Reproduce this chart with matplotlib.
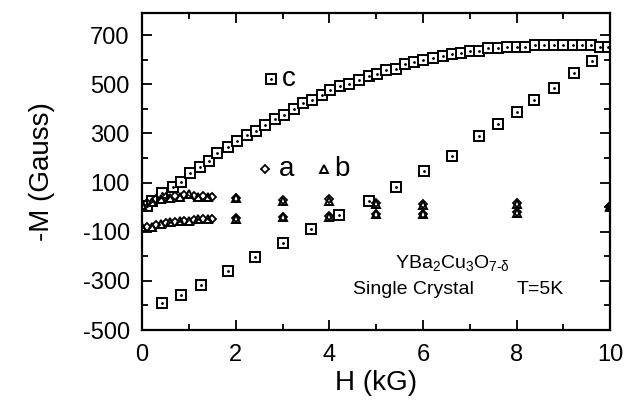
import matplotlib
matplotlib.use("Agg")
import matplotlib.pyplot as plt
from matplotlib.ticker import MultipleLocator

plt.rcParams['font.family'] = ['Liberation Sans', 'DejaVu Sans']
plt.rcParams['axes.unicode_minus'] = False
plt.rcParams['mathtext.fontset'] = 'custom'
plt.rcParams['mathtext.rm'] = 'Liberation Sans'
plt.rcParams['mathtext.it'] = 'Liberation Sans'

# curve c, upper branch (squares)
c_up_H = [0.1, 0.21, 0.42, 0.65, 0.83, 1.03, 1.24, 1.43, 1.61, 1.83, 2.02, 2.24, 2.43,
          2.63, 2.84, 3.03, 3.25, 3.43, 3.63, 3.85, 4.02, 4.22, 4.43, 4.63, 4.84, 5.01,
          5.21, 5.43, 5.62, 5.81, 6.01, 6.21, 6.43, 6.62, 6.81, 7.01, 7.2, 7.4, 7.61,
          7.79, 8.0, 8.18, 8.4, 8.59, 8.79, 9.0, 9.2, 9.39, 9.59, 9.79, 9.96]
c_up_M = [6, 27, 56, 81, 104, 137, 162, 187, 220, 244, 269, 292, 309,
          333, 360, 376, 401, 424, 435, 458, 476, 492, 499, 516, 533, 541,
          557, 564, 584, 591, 598, 607, 614, 622, 629, 636, 636, 646, 646,
          652, 652, 652, 659, 659, 659, 659, 659, 659, 659, 652, 652]
# curve c, return branch
c_dn_H = [0.42, 0.83, 1.25, 1.83, 2.41, 3.02, 3.61, 4.21, 4.84, 5.43, 6.03, 6.62,
          7.19, 7.61, 8.02, 8.38, 8.79, 9.22, 9.61]
c_dn_M = [-391, -357, -316, -259, -202, -144, -89, -31, 27, 84, 146, 210,
          288, 337, 386, 435, 485, 544, 594]

# curve a (diamonds)
a_H = [0.1, 0.3, 0.5, 0.7, 0.9, 1.1, 1.3, 1.5, 2, 3, 4, 5, 6, 8, 10]
a_M_up = [15, 35, 42, 45, 48, 45, 44, 42, 38, 30, 32, 18, 14, 16, 5]
a_M_dn = [-80, -74, -66, -60, -56, -52, -50, -48, -46, -38, -36, -26, -26, -20, 4]
# curve b (triangles)
b_H = [0.0, 0.2, 0.4, 0.6, 0.8, 1.0, 1.2, 1.4, 2, 3, 4, 5, 6, 8, 10]
b_M_up = [8, 20, 32, 38, 40, 52, 42, 42, 36, 27, 27, 14, 10, 12, 3]
b_M_dn = [-82, -80, -70, -62, -58, -55, -50, -48, -48, -40, -38, -28, -28, -24, 2]

fig = plt.figure(figsize=(6.29, 4.05), dpi=100)
ax = fig.add_axes([0.226, 0.185, 0.744, 0.783])

sq = dict(marker='s', ms=7.5, mfc='white', mec='black', mew=1.4, ls='none')
dot = dict(marker='.', ms=2, color='black', ls='none')
tri = dict(marker='^', ms=6, mfc='none', mec='black', mew=1.4, ls='none')
dia = dict(marker='D', ms=4, mfc='none', mec='black', mew=1.3, ls='none')

for H, M in [(c_up_H, c_up_M), (c_dn_H, c_dn_M)]:
    ax.plot(H, M, **sq)
    ax.plot(H, M, **dot)
for M in [a_M_up, a_M_dn]:
    ax.plot(a_H, M, **dia)
for M in [b_M_up, b_M_dn]:
    ax.plot(b_H, M, **tri)

# in-plot labels
ax.plot([2.76], [520], **sq)
ax.plot([2.76], [520], **dot)
ax.text(2.99, 520, 'c', fontsize=20, va='center')
ax.plot([2.63], [157], **dia)
ax.text(2.92, 157, 'a', fontsize=20, va='center')
ax.plot([3.89], [157], **tri)
ax.text(4.1, 157, 'b', fontsize=20, va='center')

ax.text(5.41, -227, r'YBa$_2$Cu$_3$O$_{7\text{-}\delta}$', fontsize=14, va='center')
ax.text(4.51, -333, 'Single Crystal', fontsize=14, va='center')
ax.text(8.01, -333, 'T=5K', fontsize=14, va='center')

ax.set_xlim(0, 10)
ax.set_ylim(-500, 790)
ax.set_xticks([0, 2, 4, 6, 8, 10])
ax.xaxis.set_minor_locator(MultipleLocator(1))
ax.set_yticks([-500, -300, -100, 100, 300, 500, 700])
ax.yaxis.set_minor_locator(MultipleLocator(100))
ax.tick_params(which='both', direction='in', top=True, right=True, labelsize=17, width=1.3)
ax.tick_params(which='major', length=7)
ax.tick_params(which='minor', length=4)
ax.tick_params(axis='y', which='major', pad=9)
ax.tick_params(axis='x', which='major', pad=10)
for s in ax.spines.values():
    s.set_linewidth(1.6)

ax.set_xlabel('H (kG)', fontsize=20, labelpad=3)
ax.set_ylabel('-M (Gauss)', fontsize=20, labelpad=20)

fig.savefig('out.png', dpi=100)
